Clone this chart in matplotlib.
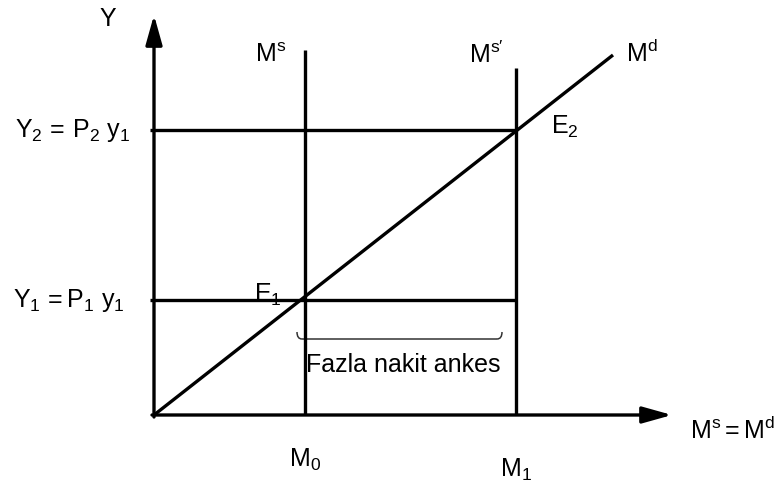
import matplotlib
matplotlib.use("Agg")
import matplotlib.pyplot as plt
from matplotlib.path import Path
from matplotlib.patches import PathPatch

plt.rcParams.update({"font.family": "Liberation Sans", "font.size": 18,
                     "mathtext.fontset": "custom", "mathtext.rm": "Liberation Sans",
                     "mathtext.it": "Liberation Sans"})

# diagram values (1 unit = 100 px of the original picture)
x_axis_end, y_axis_end = 5.18, 4.00
money = [1.51, 3.62]                # M0, M1
money_top = [3.65, 3.47]            # upper ends of Ms, Ms'
income = [1.15, 2.85]               # Y1, Y2
demand_x, demand_y = [0, 4.59], [0, 3.60]
brace_x, brace_y = [1.43, 3.48], 0.76

fig = plt.figure(figsize=(7.81, 4.84), dpi=100)
ax = fig.add_axes([0, 0, 1, 1])
ax.set_xlim(-1.54, 6.27)
ax.set_ylim(-0.69, 4.15)
ax.axis("off")

lw = 2.4
arr = dict(arrowstyle="-|>,head_length=1.0,head_width=0.28", mutation_scale=18,
           color="black", lw=lw, shrinkA=0, shrinkB=0)
ax.annotate("", xy=(0, y_axis_end), xytext=(0, -0.02), arrowprops=arr)
ax.annotate("", xy=(x_axis_end, 0), xytext=(-0.02, 0), arrowprops=arr)

for m, top in zip(money, money_top):
    ax.plot([m, m], [0, top], color="black", lw=lw, solid_capstyle="butt")
for y in income:
    ax.plot([-0.04, money[1]], [y, y], color="black", lw=lw, solid_capstyle="butt")
ax.plot(demand_x, demand_y, color="black", lw=lw, solid_capstyle="butt")

# brace under the excess money holdings
x0, x1 = brace_x
yb, h, r = brace_y, 0.07, 0.05
verts = [(x0, yb + h), (x0, yb), (x0 + r, yb), (x0 + r, yb),
         (x1 - r, yb), (x1 - r, yb), (x1, yb), (x1, yb + h)]
codes = [Path.MOVETO, Path.CURVE3, Path.CURVE3, Path.MOVETO,
         Path.LINETO, Path.MOVETO, Path.CURVE3, Path.CURVE3]
ax.add_patch(PathPatch(Path(verts, codes), fill=False, lw=1.1, color="0.2"))

ax.text(-0.46, 3.96, "Y", ha="center", va="center")
ax.text(1.17, 3.60, r"$\mathregular{M^s}$", ha="center", va="center")
ax.text(3.32, 3.60, r"$\mathregular{M^{s\prime}}$", ha="center", va="center")
ax.text(4.88, 3.62, r"$\mathregular{M^d}$", ha="center", va="center")
ax.text(-0.24, income[1], r"$\mathregular{Y_2\,{=}\,P_2\ y_1}$", ha="right", va="center")
ax.text(-0.29, income[0], r"$\mathregular{Y_1\,{=}P_1\ y_1}$", ha="right", va="center")
ax.text(1.14, income[0] + 0.05, r"$\mathregular{E_1}$", ha="center", va="center")
ax.text(4.11, income[1] + 0.03, r"$\mathregular{E_2}$", ha="center", va="center")
ax.text(money[0], -0.45, r"$\mathregular{M_0}$", ha="center", va="center")
ax.text(money[1], -0.55, r"$\mathregular{M_1}$", ha="center", va="center")
ax.text(5.79, -0.15, r"$\mathregular{M^s = M^d}$", ha="center", va="center")
ax.text(2.49, 0.50, "Fazla nakit ankes", ha="center", va="center")

fig.savefig("out.png", dpi=100)
